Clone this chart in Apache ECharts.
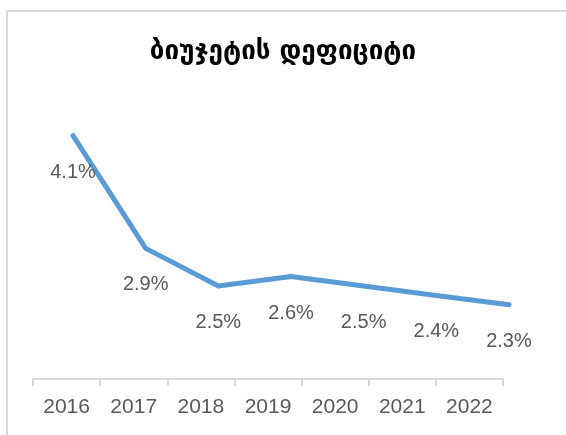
<!DOCTYPE html>
<html><head><meta charset="utf-8">
<script src="https://cdn.jsdelivr.net/npm/echarts@6/dist/echarts.min.js"></script>
<style>html,body{margin:0;padding:0;background:#fff}#c{width:566px;height:435px}</style>
</head><body><div id="c"></div>
<script>
const title = 'ბიუჯეტის დეფიციტი';
const categories = ['2016','2017','2018','2019','2020','2021','2022'];
const deficit = [4.1, 2.9, 2.5, 2.6, 2.5, 2.4, 2.3];

const chart = echarts.init(document.getElementById('c'), null, {renderer:'canvas'});
const textColor = '#595959';
chart.setOption({
  animation:false,
  backgroundColor:'#fff',
  title:{text:title,left:'center',top:34,
    textStyle:{fontFamily:'DejaVu Sans',fontWeight:'bold',fontSize:26,color:'#000'}},
  graphic:[{type:'rect',shape:{x:7,y:11,width:620,height:500},
    style:{fill:'none',stroke:'#d9d9d9',lineWidth:2},silent:true}],
  grid:[
    {left:33,right:63,top:98,bottom:56},
    {left:36.7,right:20.7,top:98,bottom:55}
  ],
  xAxis:[
    {type:'category',gridIndex:0,data:categories,boundaryGap:true,
     axisLine:{lineStyle:{color:'#d9d9d9',width:2}},
     axisTick:{show:true,length:7,lineStyle:{color:'#d9d9d9',width:2}},
     axisLabel:{color:textColor,fontSize:21,fontFamily:'Liberation Sans',margin:18}},
    {type:'category',gridIndex:1,data:categories,boundaryGap:true,show:false}
  ],
  yAxis:[
    {type:'value',gridIndex:0,min:1.5,max:4.5,show:false},
    {type:'value',gridIndex:1,min:1.5,max:4.5,show:false}
  ],
  series:[{
    type:'line',xAxisIndex:1,yAxisIndex:1,data:deficit,
    symbol:'circle',symbolSize:1,
    itemStyle:{color:'#5B9BD5'},
    lineStyle:{color:'#5B9BD5',width:5,cap:'round',join:'round'},
    label:{show:true,position:'bottom',distance:26,color:textColor,
      fontSize:20,fontFamily:'Liberation Sans',
      formatter:p=>p.value.toFixed(1)+'%'}
  }]
});
</script></body></html>
